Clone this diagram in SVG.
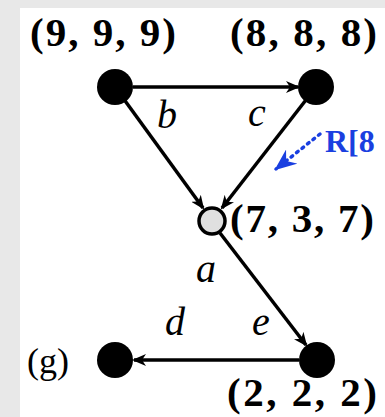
<svg xmlns="http://www.w3.org/2000/svg" width="385" height="417" viewBox="0 0 385 417">
<style>
.lbl{font-family:"Liberation Serif",serif;font-weight:bold;font-size:41px;fill:#000}
.it{font-family:"Liberation Serif",serif;font-style:italic;font-size:40px;fill:#000}
.edge{stroke:#000;stroke-width:3.5;fill:none}
.blk{fill:#000}
</style>
<defs>
<marker id="ah" markerWidth="14" markerHeight="12" refX="12" refY="6" orient="auto" markerUnits="userSpaceOnUse">
<path d="M0,0 L14,6 L0,12 L4,6 z" fill="#000"/>
</marker>
<marker id="bh" markerWidth="22" markerHeight="18" refX="20" refY="9" orient="auto" markerUnits="userSpaceOnUse">
<path d="M0,0 L22,9 L0,18 L7,9 z" fill="#1a3fe0"/>
</marker>
</defs>
<rect x="0" y="0" width="385" height="417" fill="#e8e8e8"/>
<rect x="20" y="8" width="365" height="409" fill="#fff"/>
<g id="connectors">
<line class="edge" x1="133" y1="87" x2="298" y2="87" marker-end="url(#ah)"/>
<line class="edge" x1="115" y1="87" x2="203" y2="208" marker-end="url(#ah)"/>
<line class="edge" x1="316" y1="87" x2="222" y2="208" marker-end="url(#ah)"/>
<line class="edge" x1="220" y1="233" x2="306" y2="345" marker-end="url(#ah)"/>
<line class="edge" x1="299" y1="360" x2="134" y2="360" marker-end="url(#ah)"/>
<line x1="320" y1="134" x2="276" y2="169" stroke="#1a3fe0" stroke-width="3.5" stroke-dasharray="2,5" stroke-linecap="round" marker-end="url(#bh)"/>
</g>
<g id="n999"><circle class="blk" cx="115" cy="87" r="18"/><text class="lbl" x="30" y="46" textLength="146" lengthAdjust="spacing">(9, 9, 9)</text></g>
<g id="n888"><circle class="blk" cx="316" cy="87" r="18"/><text class="lbl" x="230" y="46" textLength="147" lengthAdjust="spacing">(8, 8, 8)</text></g>
<g id="n737"><circle cx="212" cy="221" r="13" fill="#e0e0e0" stroke="#000" stroke-width="3.5"/><text class="lbl" x="230" y="232" textLength="144" lengthAdjust="spacing">(7, 3, 7)</text></g>
<g id="n222"><circle class="blk" cx="317" cy="360" r="18"/><text class="lbl" x="227" y="406" textLength="150" lengthAdjust="spacing">(2, 2, 2)</text></g>
<g id="ng"><circle class="blk" cx="115" cy="360" r="18"/><text font-family="Liberation Serif,serif" font-size="36" x="27" y="373">(g)</text></g>
<g id="labels">
<text class="it" x="157" y="128">b</text>
<text class="it" x="248" y="126">c</text>
<text class="it" x="196" y="282">a</text>
<text class="it" x="165" y="335">d</text>
<text class="it" x="252" y="335">e</text>
<text font-family="Liberation Serif,serif" font-weight="bold" font-size="32" fill="#1a3fe0" x="325" y="152">R[8</text>
</g>
</svg>
